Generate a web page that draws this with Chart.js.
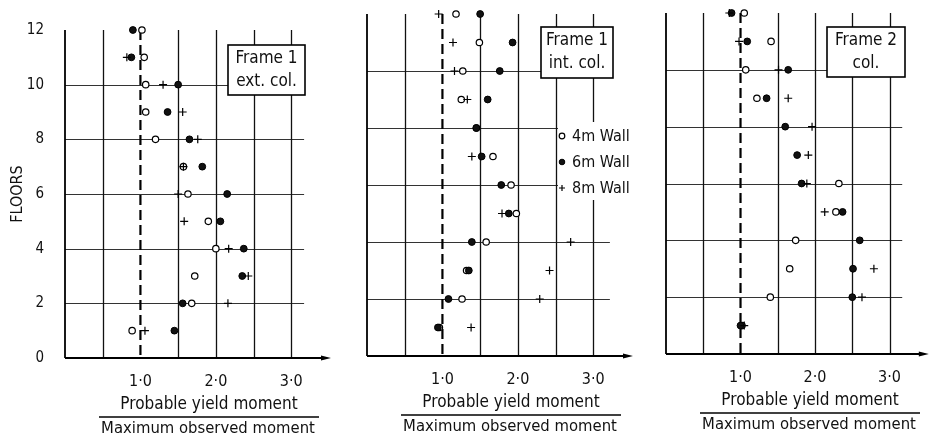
<!DOCTYPE html>
<html>
<head>
<meta charset="utf-8">
<script src="https://cdn.jsdelivr.net/npm/chart.js@4/dist/chart.umd.min.js"></script>
<style>
  body { margin: 0; background: #fff; width: 932px; height: 439px; overflow: hidden; position: relative; }
  canvas { position: absolute; top: 0; }
</style>
</head>
<body>
<canvas id="c1" width="340" height="439" style="left:0px"></canvas>
<canvas id="c2" width="345" height="439" style="left:302px"></canvas>
<canvas id="c3" width="331" height="439" style="left:601px"></canvas>
<script>
const FONT = '"DejaVu Sans Condensed", "DejaVu Sans", sans-serif';

// floors 1..12
const floors = [1, 2, 3, 4, 5, 6, 7, 8, 9, 10, 11, 12];
const xTicks = [1, 2, 3];
const yTicks = [0, 2, 4, 6, 8, 10, 12];
const gridX = [0.5, 1.5, 2, 2.5, 3];
const gridY = [2, 4, 6, 8, 10];
const seriesNames = ['4m Wall', '6m Wall', '8m Wall'];

// Frame 1 ext. col.
const f1ext4m = [0.89, 1.68, 1.72, 2.0, 1.9, 1.63, 1.57, 1.2, 1.07, 1.07, 1.05, 1.02];
const f1ext6m = [1.45, 1.56, 2.35, 2.37, 2.06, 2.15, 1.82, 1.65, 1.36, 1.5, 0.88, 0.9];
const f1ext8m = [1.06, 2.16, 2.43, 2.17, 1.58, 1.5, 1.57, 1.76, 1.56, 1.3, 0.82, null];

// Frame 1 int. col.
const f1int4m = [0.96, 1.26, 1.32, 1.58, 1.98, 1.91, 1.67, 1.45, 1.25, 1.27, 1.49, 1.18];
const f1int6m = [0.94, 1.08, 1.35, 1.39, 1.88, 1.78, 1.52, 1.45, 1.6, 1.76, 1.93, 1.5];
const f1int8m = [1.38, 2.29, 2.42, 2.7, 1.79, null, 1.39, null, 1.33, 1.16, 1.14, 0.95];

// Frame 2 col.
const f2col4m = [1.02, 1.4, 1.66, 1.74, 2.28, 2.32, null, null, 1.22, 1.07, 1.41, 1.05];
const f2col6m = [1.0, 2.5, 2.51, 2.6, 2.37, 1.82, 1.76, 1.6, 1.35, 1.64, 1.09, 0.88];
const f2col8m = [1.05, 2.63, 2.79, null, 2.13, 1.89, 1.91, 1.96, 1.64, 1.51, 0.98, 0.85];

const toPoints = vals => floors.map((f, i) => vals[i] == null ? null : { x: vals[i], y: f }).filter(p => p);

const tickFmt = v => String(v.toFixed(1)).replace('.', '\u00b7');

function line(ctx, x1, y1, x2, y2) {
  ctx.beginPath(); ctx.moveTo(x1, y1); ctx.lineTo(x2, y2); ctx.stroke();
}

const framePlugin = {
  id: 'frame',
  beforeDatasetsDraw(chart, args, o) {
    const { ctx, scales: { x, y } } = chart;
    const y0 = y.getPixelForValue(0), y12 = y.getPixelForValue(12), x0 = x.getPixelForValue(0);
    ctx.save();
    ctx.strokeStyle = '#333'; ctx.lineWidth = 1;
    gridY.forEach(v => {
      const py = Math.round(y.getPixelForValue(v)) + 0.5;
      line(ctx, x0, py, x.getPixelForValue(o.hEnd), py);
    });
    ctx.strokeStyle = '#111'; ctx.lineWidth = 1.3;
    gridX.forEach(v => {
      const px = Math.round(x.getPixelForValue(v)) + 0.5;
      line(ctx, px, y0, px, y12);
    });
    // reference ratio 1.0
    ctx.strokeStyle = '#000'; ctx.lineWidth = 2.2; ctx.setLineDash([10, 5]);
    const p1 = x.getPixelForValue(1);
    line(ctx, p1, y12, p1, y0);
    ctx.setLineDash([]);
    // axes
    ctx.lineWidth = 1.8;
    line(ctx, x0, y12, x0, y0);
    const xe = x.getPixelForValue(3.5);
    line(ctx, x0, y0, xe - 4, y0);
    ctx.fillStyle = '#000';
    ctx.beginPath(); ctx.moveTo(xe + 2, y0); ctx.lineTo(xe - 8, y0 - 2.5); ctx.lineTo(xe - 8, y0 + 2.5); ctx.closePath(); ctx.fill();
    ctx.restore();
  },
  afterDatasetsDraw(chart, args, o) {
    const { ctx, chartArea: a } = chart;
    ctx.save();
    // title box
    const bx = a.left + o.box[0], by = a.top + o.box[1], bw = o.box[2], bh = o.box[3];
    ctx.fillStyle = '#fff'; ctx.fillRect(bx, by, bw, bh);
    ctx.strokeStyle = '#000'; ctx.lineWidth = 1.6; ctx.strokeRect(bx, by, bw, bh);
    ctx.fillStyle = '#111'; ctx.font = '17px ' + FONT; ctx.textAlign = 'center'; ctx.textBaseline = 'middle';
    ctx.fillText(o.title[0], bx + bw / 2, by + 14);
    ctx.fillText(o.title[1], bx + bw / 2, by + 37);
    // legend
    if (o.legend) {
      const lx = a.left + o.legend[0], ly = a.top + o.legend[1];
      ctx.fillStyle = '#fff'; ctx.fillRect(lx - 4, ly - 14, 100, 78);
      ctx.font = '16px ' + FONT; ctx.textAlign = 'left';
      chart.data.datasets.forEach((ds, i) => {
        const yy = ly + i * 26;
        const st = ds.pointStyle;
        ctx.strokeStyle = '#000'; ctx.fillStyle = ds.backgroundColor; ctx.lineWidth = ds.borderWidth;
        ctx.beginPath();
        if (st === 'cross') {
          ctx.moveTo(lx - 3, yy); ctx.lineTo(lx + 3, yy); ctx.moveTo(lx, yy - 3); ctx.lineTo(lx, yy + 3); ctx.stroke();
        } else {
          ctx.arc(lx, yy, 2.8, 0, Math.PI * 2); ctx.fill(); ctx.stroke();
        }
        ctx.fillStyle = '#111';
        ctx.fillText(ds.label, lx + 10, yy + 1);
      });
    }
    // fraction axis title
    const cx = a.left + 144, yb = a.bottom;
    ctx.fillStyle = '#111'; ctx.textAlign = 'center';
    ctx.font = '17px ' + FONT;
    ctx.fillText('Probable yield moment', cx, yb + 47);
    ctx.font = '16.5px ' + FONT;
    ctx.fillText('Maximum observed moment', cx - 1, yb + 71);
    ctx.strokeStyle = '#000'; ctx.lineWidth = 1.4;
    line(ctx, cx - 110, yb + 59, cx + 110, yb + 59);
    ctx.restore();
  }
};

function makePanel(id, vals, cfg) {
  const styles = [
    { pointStyle: 'circle', backgroundColor: '#fff', borderColor: '#000', borderWidth: 1.2, pointRadius: 3.2, order: 2 },
    { pointStyle: 'circle', backgroundColor: '#111', borderColor: '#000', borderWidth: 1, pointRadius: 3.4, order: 1 },
    { pointStyle: 'cross', backgroundColor: '#000', borderColor: '#000', borderWidth: 1.2, pointRadius: 4, order: 0 }
  ];
  const canvas = document.getElementById(id);
  return new Chart(canvas, {
    type: 'scatter',
    data: {
      datasets: vals.map((v, i) => Object.assign({ label: seriesNames[i], data: toPoints(v), clip: false, pointHoverRadius: 3 }, styles[i]))
    },
    options: {
      responsive: false,
      animation: false,
      events: [],
      layout: { padding: { top: cfg.top, right: canvas.width - cfg.left - cfg.width, left: 0, bottom: 0 } },
      plugins: {
        legend: { display: false },
        tooltip: { enabled: false },
        frame: { hEnd: cfg.hEnd, box: cfg.box, title: cfg.title, legend: cfg.legend }
      },
      scales: {
        x: {
          type: 'linear', min: 0, max: 3.5,
          afterBuildTicks: s => { s.ticks = xTicks.map(v => ({ value: v })); },
          afterFit: s => { s.height = canvas.height - cfg.bottom; },
          grid: { display: false, drawTicks: false },
          border: { display: false },
          ticks: { callback: tickFmt, padding: 14, color: '#111', font: { family: FONT, size: 16 }, maxRotation: 0 }
        },
        y: {
          type: 'linear', min: 0, max: 12,
          afterBuildTicks: s => { s.ticks = yTicks.map(v => ({ value: v })); },
          afterFit: s => { s.width = cfg.left; },
          grid: { display: false, drawTicks: false },
          border: { display: false },
          title: { display: cfg.yLabels, text: 'FLOORS', color: '#111', font: { family: FONT, size: 16 }, padding: { top: 8, bottom: 0 } },
          ticks: { display: cfg.yLabels, padding: 21, color: '#111', font: { family: FONT, size: 15 } }
        }
      }
    },
    plugins: [framePlugin]
  });
}

makePanel('c1', [f1ext4m, f1ext6m, f1ext8m], {
  left: 65, width: 264, top: 15, bottom: 358, hEnd: 3.17, yLabels: true,
  box: [163, 15, 77, 50], title: ['Frame 1', 'ext. col.']
});
makePanel('c2', [f1int4m, f1int6m, f1int8m], {
  left: 65, width: 264, top: 14, bottom: 356, hEnd: 3.22, yLabels: false,
  box: [174, 13, 72, 51], title: ['Frame 1', 'int. col.'], legend: [195, 122]
});
makePanel('c3', [f2col4m, f2col6m, f2col8m], {
  left: 65, width: 264, top: 13, bottom: 354, hEnd: 3.17, yLabels: false,
  box: [161, 14, 78, 50], title: ['Frame 2', 'col.']
});
</script>
</body>
</html>
